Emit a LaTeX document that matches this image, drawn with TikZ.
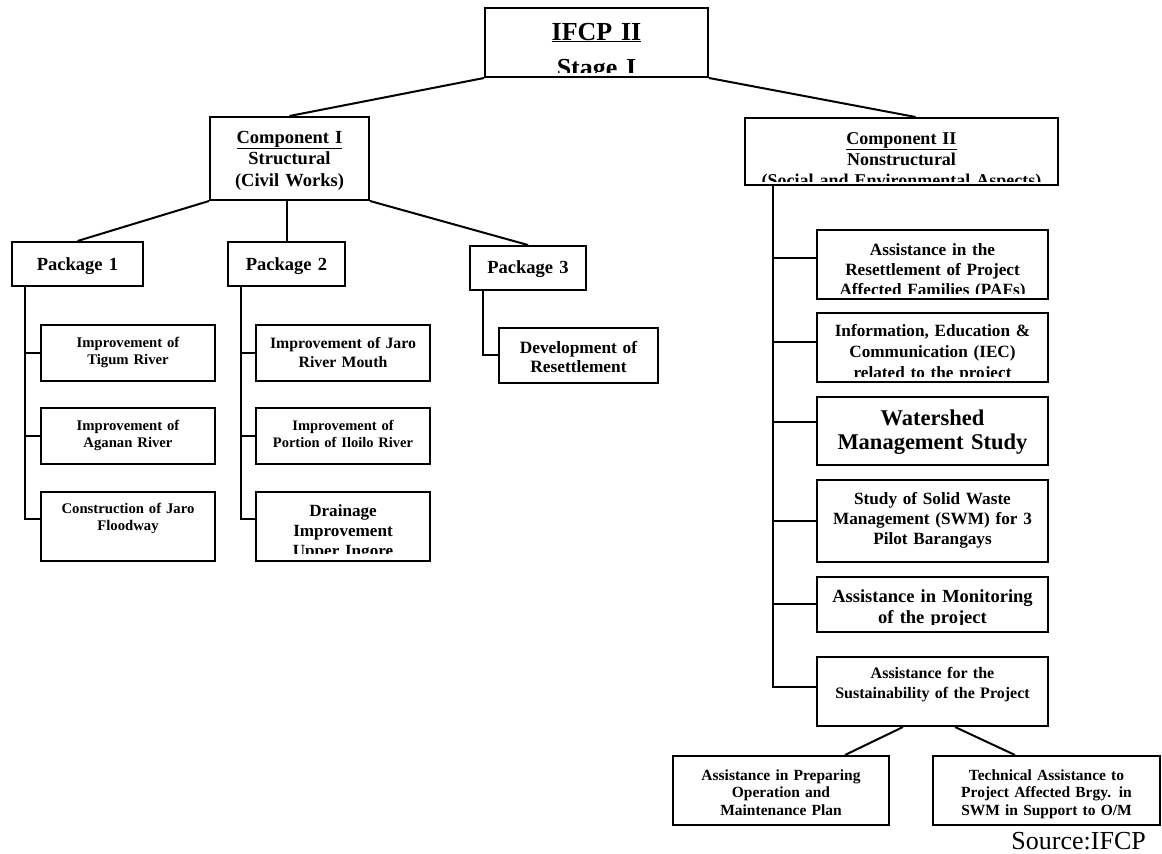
\documentclass[tikz,border=0pt]{standalone}
\usepackage{fontspec}
\setmainfont{Liberation Serif}
\usetikzlibrary{fit}
\newcommand\fsz[2]{\fontsize{#1}{#2}\selectfont\bfseries}
\tikzset{
  boxst/.style={draw, line width=2pt, rectangle, inner sep=0pt},
  txt/.style={anchor=base, text width=320pt, align=center, inner sep=0pt},
  conn/.style={line width=2pt}
}
% name, x1, y1, x2, y2, first baseline, clip bottom, font, text
\newcommand\bx[9]{%
  \node[boxst, fit={(#2,#3) (#4,#5)}] (#1) {};
  \begin{scope}
    \clip (#2,#3) rectangle (#4,#7);
    \node[txt, font={#8}] (#1t) at ({(#2+#4)/2},#6) {#9};
  \end{scope}}
\begin{document}
\begin{tikzpicture}[x=1pt,y=-1pt]
\fill[white] (0,0) rectangle (1162,854);
\useasboundingbox (0,0) rectangle (1162,854);

\bx{top}{485}{8}{708}{77}{40}{72}{\fsz{26}{36}}{\underline{IFCP II}\\Stage I}
\bx{c1}{210}{117}{369}{200}{143}{197}{\fsz{18.5}{21.5}}{\underline{Component I}\\Structural\\(Civil Works)}
\bx{c2}{745}{118}{1058}{185}{144}{181}{\fsz{18}{21}}{\underline{Component II}\\Nonstructural\\(Social and Environmental Aspects)}

\bx{p1}{12}{242}{143}{286}{270}{284}{\fsz{18.5}{21}}{Package 1}
\bx{p2}{228}{242}{345}{286}{270}{284}{\fsz{18.5}{21}}{Package 2}
\bx{p3}{470}{246}{586}{290}{273}{288}{\fsz{18.5}{21}}{Package 3}

\bx{a1}{41}{325}{215}{381}{347}{379}{\fsz{14.7}{17}}{Improvement of\\Tigum River}
\bx{a2}{41}{408}{215}{464}{430}{462}{\fsz{14.7}{17}}{Improvement of\\Aganan River}
\bx{a3}{41}{492}{215}{561}{513}{559}{\fsz{14.7}{17}}{Construction of Jaro\\Floodway}

\bx{b1}{256}{325}{430}{381}{348}{379}{\fsz{15.8}{19}}{Improvement of Jaro\\River Mouth}
\bx{b2}{256}{408}{430}{464}{430}{462}{\fsz{14.5}{17}}{Improvement of\\Portion of Iloilo River}
\bx{b3}{256}{492}{430}{561}{516}{553}{\fsz{17.1}{20}}{Drainage\\Improvement\\Upper Ingore}

\bx{d1}{499}{328}{658}{383}{353}{381}{\fsz{17.3}{19}}{Development of\\Resettlement}

\bx{r1}{817}{230}{1048}{299}{255}{293}{\fsz{17.2}{20}}{Assistance in the\\Resettlement of Project\\Affected Families (PAFs)}
\bx{r2}{817}{313}{1048}{382}{336}{376}{\fsz{17.2}{21}}{Information, Education \&\\Communication (IEC)\\related to the project}
\bx{r3}{817}{397}{1048}{465}{425}{463}{\fsz{22.5}{24}}{Watershed\\Management Study}
\bx{r4}{817}{480}{1048}{562}{504}{560}{\fsz{17.2}{20}}{Study of Solid Waste\\Management (SWM) for 3\\Pilot Barangays}
\bx{r5}{817}{577}{1048}{632}{602}{624}{\fsz{18.5}{21}}{Assistance in Monitoring\\of the project}
\bx{r6}{817}{657}{1048}{726}{678}{724}{\fsz{16}{20}}{Assistance for the\\Sustainability of the Project}

\bx{s1}{673}{756}{889}{825}{780}{823}{\fsz{15.5}{17.5}}{Assistance in Preparing\\Operation and\\Maintenance Plan}
\bx{s2}{933}{756}{1160}{825}{780}{823}{\fsz{15.5}{17.5}}{Technical Assistance to\\Project Affected Brgy. in\\SWM in Support to O/M}

\node[anchor=base east, inner sep=0pt, font=\fontsize{26}{30}\selectfont] (src) at (1146,849) {Source:IFCP};

% connectors
\draw[conn] (top.south west) -- (c1.north);
\draw[conn] (top.south east) -- ([xshift=14pt]c2.north);
\draw[conn] (c1.south west) -- (p1.north);
\draw[conn] ([xshift=-2.5pt]c1.south) -- ([xshift=-2.5pt]c1.south |- p2.north);
\draw[conn] (c1.south east) -- (p3.north);

\draw[conn] ([xshift=14pt]p1.south west) |- (a1.west);
\draw[conn] ([xshift=14pt]p1.south west) |- (a2.west);
\draw[conn] ([xshift=14pt]p1.south west) |- ([yshift=7.5pt]a3.west);
\draw[conn] ([xshift=14pt]p2.south west) |- (b1.west);
\draw[conn] ([xshift=14pt]p2.south west) |- (b2.west);
\draw[conn] ([xshift=14pt]p2.south west) |- ([yshift=7.5pt]b3.west);
\draw[conn] ([xshift=14pt]p3.south west) |- ([yshift=0.5pt]d1.west);

\draw[conn] ([xshift=29pt]c2.south west) |- ([yshift=6.5pt]r1.west);
\draw[conn] ([xshift=29pt]c2.south west) |- ([yshift=5.5pt]r2.west);
\draw[conn] ([xshift=29pt]c2.south west) |- ([yshift=9pt]r3.west);
\draw[conn] ([xshift=29pt]c2.south west) |- (r4.west);
\draw[conn] ([xshift=29pt]c2.south west) |- ([yshift=0.5pt]r5.west);
\draw[conn] ([xshift=29pt]c2.south west) |- ([yshift=4.5pt]r6.west);

\draw[conn] ([xshift=-29.5pt]r6.south) -- ([xshift=64pt]s1.north);
\draw[conn] ([xshift=22.5pt]r6.south) -- ([xshift=-31.5pt]s2.north);
\end{tikzpicture}
\end{document}
